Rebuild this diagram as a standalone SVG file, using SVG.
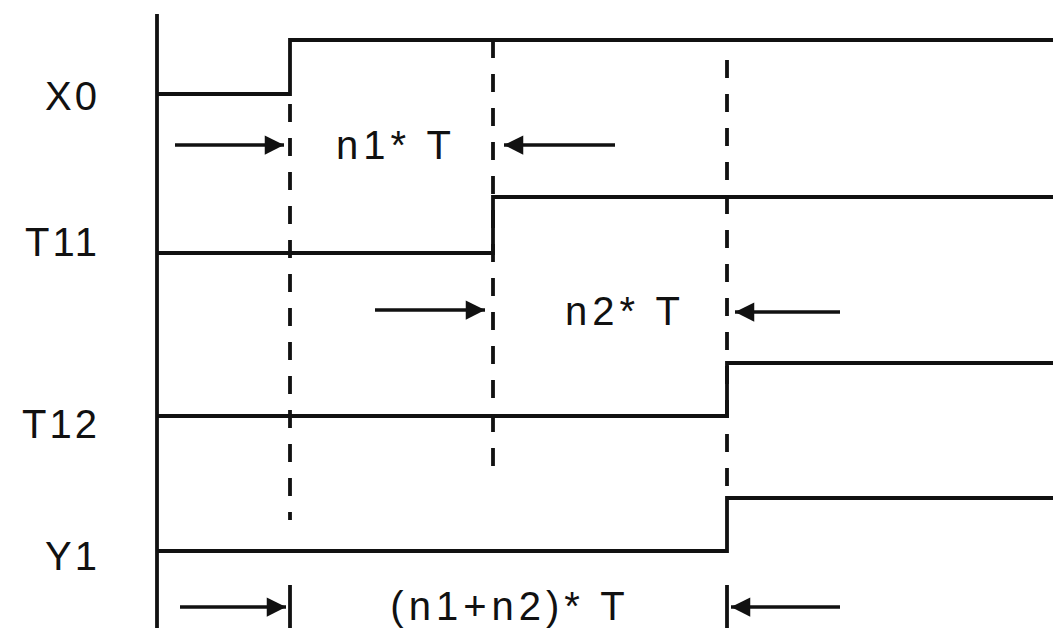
<svg xmlns="http://www.w3.org/2000/svg" width="1053" height="628" viewBox="0 0 1053 628">
<style>
.sig{fill:none;stroke:#111;stroke-width:3.8}
.dash{fill:none;stroke:#111;stroke-width:3.8;stroke-dasharray:18 16}
.arr{fill:none;stroke:#111;stroke-width:3.5}
.lbl{font-family:"Liberation Sans",Arial,sans-serif;font-size:40px;fill:#111}
</style>
<defs>
<marker id="ah" viewBox="0 0 10 10" refX="10" refY="5" markerWidth="7" markerHeight="5.5" markerUnits="strokeWidth" orient="auto">
<path d="M0,0 L10,5 L0,10 z" fill="#111"/>
</marker>
</defs>
<rect width="1053" height="628" fill="#fff"/>
<g id="axis"><line class="sig" x1="157" y1="14" x2="157" y2="628"/></g>
<g id="X0"><text class="lbl" x="100" y="110" text-anchor="end" letter-spacing="3">X0</text><polyline class="sig" points="157,94 290,94 290,40 1053,40"/></g>
<g id="T11"><text class="lbl" x="100" y="256" text-anchor="end" letter-spacing="3">T11</text><polyline class="sig" points="157,253 493,253 493,197 1053,197"/></g>
<g id="T12"><text class="lbl" x="100" y="438" text-anchor="end" letter-spacing="3">T12</text><polyline class="sig" points="157,416 727,416 727,363 1053,363"/></g>
<g id="Y1"><text class="lbl" x="100" y="570" text-anchor="end" letter-spacing="3">Y1</text><polyline class="sig" points="157,551 727,551 727,498 1053,498"/></g>
<g id="connectors">
<line class="dash" x1="290" y1="104" x2="290" y2="520"/>
<line class="dash" x1="493" y1="40" x2="493" y2="470"/>
<line class="dash" x1="727" y1="60" x2="727" y2="498"/>
<line class="sig" x1="290" y1="585" x2="290" y2="628"/>
<line class="sig" x1="727" y1="585" x2="727" y2="628"/>
<line class="arr" x1="175" y1="145" x2="284" y2="145" marker-end="url(#ah)"/>
<line class="arr" x1="615" y1="145" x2="504" y2="145" marker-end="url(#ah)"/>
<line class="arr" x1="375" y1="310" x2="485" y2="310" marker-end="url(#ah)"/>
<line class="arr" x1="840" y1="312" x2="735" y2="312" marker-end="url(#ah)"/>
<line class="arr" x1="180" y1="607" x2="286" y2="607" marker-end="url(#ah)"/>
<line class="arr" x1="840" y1="607" x2="731" y2="607" marker-end="url(#ah)"/>
</g>
<g id="labels">
<text class="lbl" x="396" y="159" text-anchor="middle" letter-spacing="5">n1* T</text>
<text class="lbl" x="625" y="325" text-anchor="middle" letter-spacing="5">n2* T</text>
<text class="lbl" x="510" y="620" text-anchor="middle" letter-spacing="5">(n1+n2)* T</text>
</g>
</svg>
